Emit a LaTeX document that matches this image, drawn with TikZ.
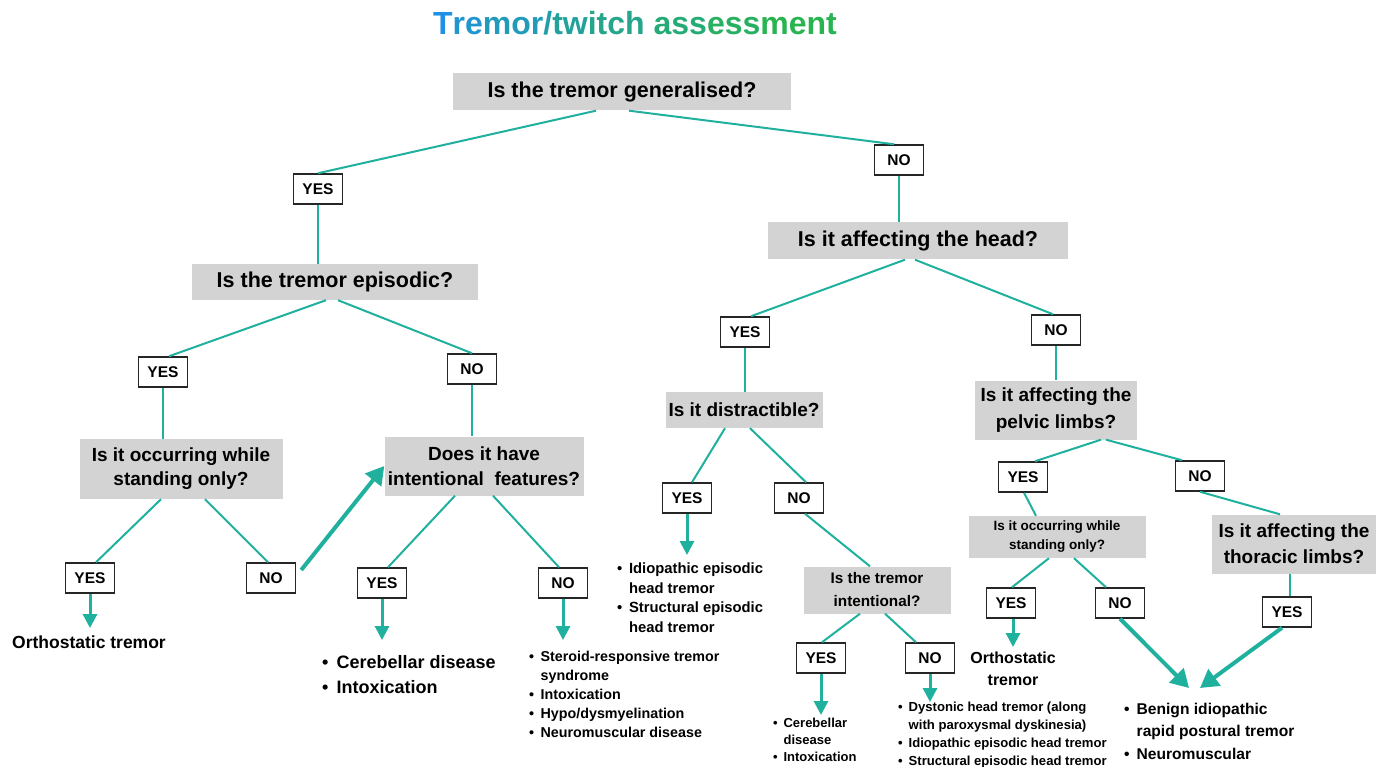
\documentclass[tikz,border=0pt]{standalone}
\usepackage{fontspec}
\setmainfont{Liberation Sans}
\usepackage{xcolor}
\usepackage{tikz}
\usetikzlibrary{arrows.meta}
\definecolor{linkteal}{RGB}{32,176,158}
\definecolor{boxgray}{RGB}{211,211,211}
\definecolor{titleblue}{RGB}{30,144,230}
\definecolor{titlegreen}{RGB}{40,180,80}
\tikzset{link/.style = {draw=linkteal, line width=2pt},
         down arrow/.style = {draw=linkteal, line width=3pt, -{Triangle[width=14pt,length=14pt]}},
         big arrow/.style = {draw=linkteal, line width=4pt, -{Triangle[width=20pt,length=18pt]}}}
\newcommand{\fsz}[2]{\fontsize{#1}{#2}\selectfont\bfseries}
\newcommand{\bitem}{\makebox[0.8em][l]{\textbullet}}
\newcommand{\bskip}{\hspace*{0.8em}}

\begin{document}
\begin{tikzpicture}[x=1pt,y=-1pt,
    question/.style={fill=boxgray,inner sep=0pt,align=center},
    answer/.style={draw=black!85,line width=1.5pt,fill=white,inner sep=0pt,minimum width=49pt,minimum height=30pt,font=\fsz{15.5}{17}},
    result/.style={inner sep=0pt,align=left,anchor=base west}]
    \useasboundingbox (0,0) rectangle (1378,767);

    % title
    \node[font=\fsz{32}{36}] (title) at (635,23) {\textcolor{titleblue}{T}\textcolor{titleblue!85!titlegreen}{re}\textcolor{titleblue!70!titlegreen}{mor}\textcolor{titleblue!60!titlegreen}{/}\textcolor{titleblue!50!titlegreen}{tw}\textcolor{titleblue!40!titlegreen}{itch}\ \textcolor{titleblue!25!titlegreen}{ass}\textcolor{titleblue!12!titlegreen}{ess}\textcolor{titlegreen}{ment}};

    % questions
    \node[question,minimum width=338pt,minimum height=37pt,font=\fsz{21.5}{26}] (gen) at (622,92) {Is the tremor generalised?};
    \node[question,minimum width=286pt,minimum height=36pt,font=\fsz{21.5}{26}] (episodic) at (335,282) {Is the tremor episodic?};
    \node[question,minimum width=300pt,minimum height=37pt,font=\fsz{21.5}{26}] (head) at (918,241) {Is it affecting the head?};
    \node[question,minimum width=203pt,minimum height=60pt,font=\fsz{19}{24}] (standing) at (181,469) {Is it occurring while\\standing only?};
    \node[question,minimum width=199pt,minimum height=59pt,font=\fsz{19}{25}] (intent) at (484,466) {Does it have\\intentional\ \ features?};
    \node[question,minimum width=157pt,minimum height=36pt,font=\fsz{19}{24}] (distract) at (744,410) {Is it distractible?};
    \node[question,minimum width=162pt,minimum height=59pt,font=\fsz{19}{27}] (pelvic) at (1056,410) {Is it affecting the\\pelvic limbs?};
    \node[question,minimum width=147pt,minimum height=47pt,font=\fsz{15.3}{23}] (intentional) at (877,590) {Is the tremor\\intentional?};
    \node[question,minimum width=177pt,minimum height=42pt,font=\fsz{13.5}{19}] (standing2) at (1057,537) {Is it occurring while\\standing only?};
    \node[question,minimum width=164pt,minimum height=59pt,font=\fsz{19}{26}] (thoracic) at (1294,544) {Is it affecting the\\thoracic limbs?};

    % answers
    \node[answer] (yesGen) at (318,189) {YES};
    \node[answer] (noGen) at (899,160) {NO};
    \node[answer] (yesEpi) at (163,372) {YES};
    \node[answer] (noEpi) at (472,369) {NO};
    \node[answer] (yesStand) at (90,578) {YES};
    \node[answer] (noStand) at (271,578) {NO};
    \node[answer] (yesInt) at (382,583) {YES};
    \node[answer] (noInt) at (563,583) {NO};
    \node[answer] (yesHead) at (745,332) {YES};
    \node[answer] (noHead) at (1056,330) {NO};
    \node[answer] (yesDis) at (687,498) {YES};
    \node[answer] (noDis) at (799,498) {NO};
    \node[answer] (yesInl) at (821,658) {YES};
    \node[answer] (noInl) at (930,658) {NO};
    \node[answer] (yesPel) at (1023,477) {YES};
    \node[answer] (noPel) at (1200,476) {NO};
    \node[answer] (yesSt2) at (1011,603) {YES};
    \node[answer] (noSt2) at (1120,603) {NO};
    \node[answer] (yesTho) at (1287,612) {YES};

    % outcomes (base = last line)
    \node[font=\fsz{17.5}{22}] (orthoL) at (89,642) {Orthostatic tremor};
    \node[result,font=\fsz{18}{25}] (cereb) at (322,693) {\bitem Cerebellar disease\\\bitem Intoxication};
    \node[result,font=\fsz{14.3}{19}] (steroid) at (529,737) {\bitem Steroid-responsive tremor\\\bskip syndrome\\\bitem Intoxication\\\bitem Hypo/dysmyelination\\\bitem Neuromuscular disease};
    \node[result,font=\fsz{14.8}{19.5}] (idio) at (617,632) {\bitem Idiopathic episodic\\\bskip head tremor\\\bitem Structural episodic\\\bskip head tremor};
    \node[result,font=\fsz{13}{17}] (cereb2) at (773,761) {\bitem Cerebellar\\\bskip disease\\\bitem Intoxication};
    \node[result,font=\fsz{13.1}{17.7}] (dyst) at (898,765) {\bitem Dystonic head tremor (along\\\bskip with paroxysmal dyskinesia)\\\bitem Idiopathic episodic head tremor\\\bitem Structural episodic head tremor};
    \node[align=center,font=\fsz{16}{22}] (orthoR) at (1013,669) {Orthostatic\\tremor};
    \node[result,font=\fsz{15.6}{22.5}] (benign) at (1124,759) {\bitem Benign idiopathic\\\bskip rapid postural tremor\\\bitem Neuromuscular};

    % arrow tips
    \coordinate (tipOrthoL) at (90,628);
    \coordinate (tipCereb) at (382,640);
    \coordinate (tipSteroid) at (563,640);
    \coordinate (tipIdio) at (687,555);
    \coordinate (tipCereb2) at (821,715);
    \coordinate (tipDyst) at (930,702);
    \coordinate (tipOrthoR) at (1013,647);
    \coordinate (tipBenL) at (1189,688);
    \coordinate (tipBenR) at (1200,688);

    % left branch
    \draw[link] ([xshift=-26pt]gen.south) -- (yesGen.north);
    \draw[link] ([xshift=7pt]gen.south) -- ([xshift=-5pt]noGen.north);
    \draw[link] (yesGen.south) -- (yesGen.south |- episodic.north);
    \draw[link] ([xshift=-9pt]episodic.south) -- ([xshift=6pt]yesEpi.north);
    \draw[link] ([xshift=3pt]episodic.south) -- (noEpi.north);
    \draw[link] (yesEpi.south) -- (yesEpi.south |- standing.north);
    \draw[link] (noEpi.south) -- (noEpi.south |- intent.north);
    \draw[link] ([xshift=-20pt]standing.south) -- ([xshift=6pt]yesStand.north);
    \draw[link] ([xshift=24pt]standing.south) -- ([xshift=-3pt]noStand.north);
    \draw[big arrow] ([xshift=5pt,yshift=8pt]noStand.east) -- (intent.west);
    \draw[link] ([xshift=-29pt]intent.south) -- ([xshift=6pt]yesInt.north);
    \draw[link] ([xshift=9pt]intent.south) -- ([xshift=-4pt]noInt.north);
    \draw[down arrow] (yesStand.south) -- (tipOrthoL);
    \draw[down arrow] (yesInt.south) -- (tipCereb);
    \draw[down arrow] (noInt.south) -- (tipSteroid);

    % right branch
    \draw[link] (noGen.south) -- (noGen.south |- head.north);
    \draw[link] ([xshift=-13pt]head.south) -- ([xshift=6pt]yesHead.north);
    \draw[link] ([xshift=-3pt]head.south) -- ([xshift=-3pt]noHead.north);
    \draw[link] (yesHead.south) -- (yesHead.south |- distract.north);
    \draw[link] (noHead.south) -- (noHead.south |- pelvic.north);
    \draw[link] ([xshift=-19pt]distract.south) -- ([xshift=5pt]yesDis.north);
    \draw[link] ([xshift=6pt]distract.south) -- ([xshift=7pt]noDis.north);
    \draw[down arrow] (yesDis.south) -- (tipIdio);
    \draw[link] ([xshift=6pt]noDis.south) -- ([xshift=-7pt]intentional.north);
    \draw[link] ([xshift=-17pt]intentional.south) -- ([xshift=1pt]yesInl.north);
    \draw[link] ([xshift=8pt]intentional.south) -- ([xshift=-14pt]noInl.north);
    \draw[down arrow] (yesInl.south) -- (tipCereb2);
    \draw[down arrow] (noInl.south) -- (tipDyst);
    \draw[link] ([xshift=45pt]pelvic.south) -- ([xshift=12pt]yesPel.north);
    \draw[link] ([xshift=50pt]pelvic.south) -- ([xshift=-18pt]noPel.north);
    \draw[link] ([xshift=1pt]yesPel.south) -- ([xshift=-21pt]standing2.north);
    \draw[link] (noPel.south) -- ([xshift=-14pt]thoracic.north);
    \draw[link] ([xshift=-8pt]standing2.south) -- ([xshift=1pt]yesSt2.north);
    \draw[link] ([xshift=17pt]standing2.south) -- ([xshift=-14pt]noSt2.north);
    \draw[link] ([xshift=-4pt]thoracic.south) -- ([xshift=3pt]yesTho.north);
    \draw[down arrow] ([xshift=2pt]yesSt2.south) -- (tipOrthoR);
    \draw[big arrow] (noSt2.south) -- (tipBenL);
    \draw[big arrow] ([xshift=-5pt]yesTho.south) -- (tipBenR);
\end{tikzpicture}
\end{document}
